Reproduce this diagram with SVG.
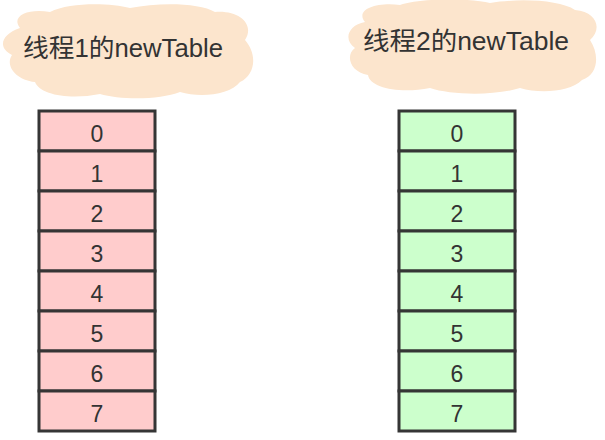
<svg xmlns="http://www.w3.org/2000/svg" width="605" height="440" viewBox="0 0 605 440">
<style>
.cloud{fill:#FCE5CD;stroke:none}
.title{font-family:"Liberation Sans","Noto Sans CJK SC",sans-serif;font-size:25px;fill:#333}
.cellA{fill:#FFCCCC;stroke:#353535;stroke-width:3}
.cellB{fill:#CCFFCC;stroke:#353535;stroke-width:3}
.num{font-family:"Liberation Sans",Arial,sans-serif;font-size:23px;fill:#333;text-anchor:middle}
</style>
<rect width="605" height="440" fill="#fff"/>
<g id="cloud1">
<path class="cloud" d="M 20,28 C 10,15 30,8 50,12 C 70,2 110,3 130,8 C 160,2 200,3 215,12 C 240,10 255,25 245,40 C 258,55 255,75 240,82 C 230,95 200,98 180,92 C 160,100 120,100 100,94 C 70,100 40,95 35,82 C 15,80 5,65 12,55 C -2,48 0,35 20,28 Z"/>
<text class="title" x="23" y="57" textLength="200" lengthAdjust="spacingAndGlyphs">线程1的newTable</text>
</g>
<g id="cloud2">
<path class="cloud" d="M 365,22 C 355,10 375,2 400,5 C 420,-2 470,-2 490,3 C 520,-2 560,0 575,10 C 598,12 602,30 590,40 C 600,55 598,75 582,80 C 570,92 540,94 520,88 C 495,96 450,95 430,88 C 400,94 370,88 368,75 C 350,72 345,55 355,48 C 343,40 348,25 365,22 Z"/>
<text class="title" x="363" y="50" textLength="206" lengthAdjust="spacingAndGlyphs">线程2的newTable</text>
</g>
<g id="table1">
<rect class="cellA" x="39" y="111" width="116" height="40"/>
<rect class="cellA" x="39" y="151" width="116" height="40"/>
<rect class="cellA" x="39" y="191" width="116" height="40"/>
<rect class="cellA" x="39" y="231" width="116" height="40"/>
<rect class="cellA" x="39" y="271" width="116" height="40"/>
<rect class="cellA" x="39" y="311" width="116" height="40"/>
<rect class="cellA" x="39" y="351" width="116" height="40"/>
<rect class="cellA" x="39" y="391" width="116" height="40"/>
<text class="num" x="97" y="142">0</text>
<text class="num" x="97" y="182">1</text>
<text class="num" x="97" y="222">2</text>
<text class="num" x="97" y="262">3</text>
<text class="num" x="97" y="302">4</text>
<text class="num" x="97" y="342">5</text>
<text class="num" x="97" y="382">6</text>
<text class="num" x="97" y="422">7</text>
</g>
<g id="table2">
<rect class="cellB" x="399" y="111" width="116" height="40"/>
<rect class="cellB" x="399" y="151" width="116" height="40"/>
<rect class="cellB" x="399" y="191" width="116" height="40"/>
<rect class="cellB" x="399" y="231" width="116" height="40"/>
<rect class="cellB" x="399" y="271" width="116" height="40"/>
<rect class="cellB" x="399" y="311" width="116" height="40"/>
<rect class="cellB" x="399" y="351" width="116" height="40"/>
<rect class="cellB" x="399" y="391" width="116" height="40"/>
<text class="num" x="457" y="142">0</text>
<text class="num" x="457" y="182">1</text>
<text class="num" x="457" y="222">2</text>
<text class="num" x="457" y="262">3</text>
<text class="num" x="457" y="302">4</text>
<text class="num" x="457" y="342">5</text>
<text class="num" x="457" y="382">6</text>
<text class="num" x="457" y="422">7</text>
</g>
<g id="connectors"/>
</svg>
